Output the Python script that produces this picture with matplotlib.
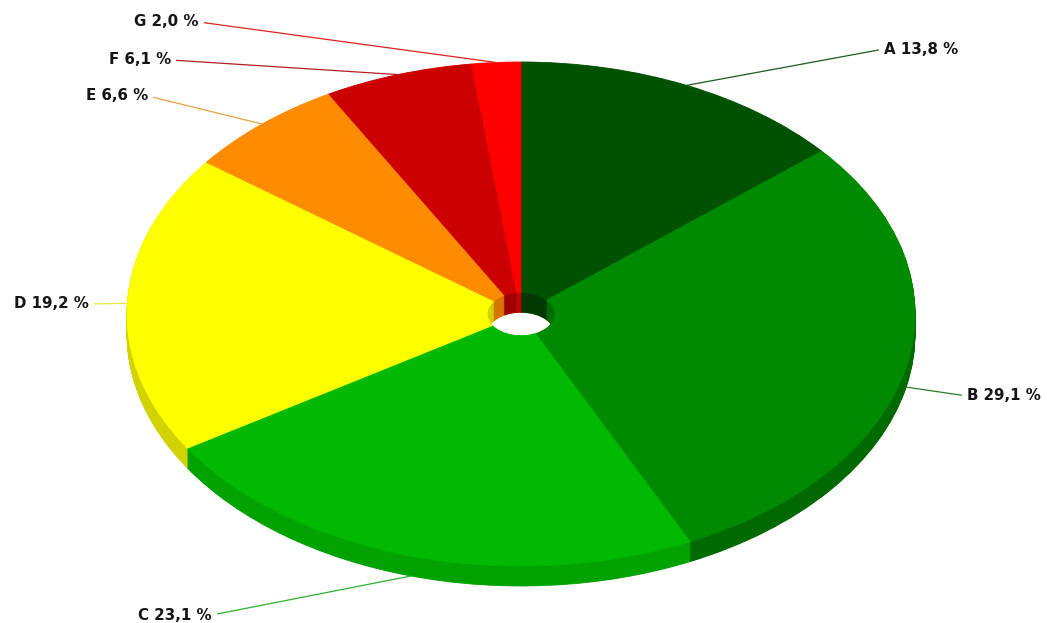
import numpy as np
import matplotlib
matplotlib.use("Agg")
import matplotlib.pyplot as plt

# données
categories = ["A", "B", "C", "D", "E", "F", "G"]
values = [13.8, 29.1, 23.1, 19.2, 6.6, 6.1, 2.0]
top_colors = ["#005200", "#008a00", "#00b900", "#ffff00", "#ff8c00", "#cc0000", "#ff0000"]
side_colors = ["#003a00", "#006a00", "#00a200", "#d2d200", "#d87400", "#a00000", "#c80000"]
line_colors = ["#1f5a1f", "#2a7a2a", "#30b030", "#e8e840", "#e8a040", "#b02020", "#e02020"]

# mise en page (pixels dans l'image)
W, H = 1047, 623
CX, CY = 521, 314      # centre de la face supérieure
RX, RY = 394, 252      # rayons de l'ellipse
DEPTH = 20             # épaisseur
HOLE = 0.086           # rayon du trou central
# position du texte (x, y, alignement)
label_pos = [(884, 49, "left"), (967, 396, "left"), (212, 615, "right"),
             (89, 304, "right"), (148, 96, "right"), (171, 60, "right"),
             (199, 22, "right")]

fig = plt.figure(figsize=(W / 100, H / 100), dpi=100)
ax = fig.add_axes([0, 0, 1, 1])

depth = DEPTH / RY
n_layers = 24
for k in range(n_layers, 0, -1):
    wedges, _ = ax.pie(values, colors=side_colors, startangle=90, counterclock=False,
                       center=(0, -depth * k / n_layers),
                       wedgeprops=dict(width=1 - HOLE, linewidth=0.6))
    for w in wedges:
        w.set_edgecolor(w.get_facecolor())

wedges, _ = ax.pie(values, colors=top_colors, startangle=90, counterclock=False,
                   wedgeprops=dict(width=1 - HOLE, linewidth=0.6))
for w in wedges:
    w.set_edgecolor(w.get_facecolor())

ax.set_aspect("auto")
ax.set_xlim(-CX / RX, (W - CX) / RX)
ax.set_ylim((CY - H) / RY, CY / RY)
ax.axis("off")

# étiquettes avec traits de rappel
total = sum(values)
cum = 0
for i, (cat, v) in enumerate(zip(categories, values)):
    mid = (cum + v / 2) / total * 2 * np.pi
    cum += v
    x0, y0 = np.sin(mid), np.cos(mid)
    if y0 < 0:
        y0 -= depth
    tx, ty, ha = label_pos[i]
    txt = f"{cat} {v:.1f} %".replace(".", ",")
    ax.annotate(txt, xy=(x0, y0), xycoords="data",
                xytext=(tx / W, 1 - ty / H), textcoords="figure fraction",
                ha=ha, va="center", fontsize=10.8, fontweight="bold", color="#151515",
                arrowprops=dict(arrowstyle="-", color=line_colors[i], lw=0.9,
                                shrinkA=2, shrinkB=0,
                                relpos=(0, 0.5) if ha == "left" else (1, 0.5)))

fig.savefig("out.png", dpi=100, facecolor="white")
